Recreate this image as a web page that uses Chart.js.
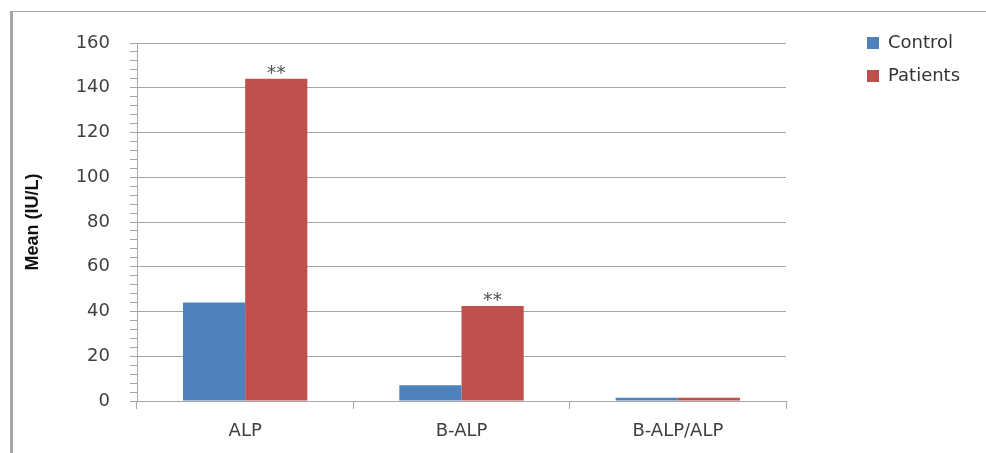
<!DOCTYPE html>
<html>
<head>
<meta charset="utf-8">
<script src="https://cdn.jsdelivr.net/npm/chart.js@4.4.0/dist/chart.umd.min.js"></script>
<style>
  html, body { margin: 0; padding: 0; background: #fff; }
  #frame {
    position: absolute;
    left: 10px;
    top: 11px;
    width: 976px;
    height: 442px;
    border-top: 1px solid #a6a6a6;
    border-left: 3px solid #a6a6a6;
    box-sizing: border-box;
  }
  #wrap { position: absolute; left: 0; top: 0; width: 973px; height: 441px; }
</style>
</head>
<body>
<div id="frame"><div id="wrap"><canvas id="alpchart"></canvas></div></div>
<script>
// data
const categories = ["ALP", "B-ALP", "B-ALP/ALP"];
const controlValues = [44, 7, 1.5];
const patientValues = [144, 42.5, 1.5];
const patientMarks = ["**", "**", ""];
const yTicksMax = 160;

const colors = {
  blue: "#4f81bd",
  red: "#c0504d",
  grid: "#a6a6a6",
  text: "#404040",
};

// "**" above the patients bars
const starLabels = {
  id: "starLabels",
  afterDatasetsDraw: (chart) => {
    const ctx = chart.ctx;
    const meta = chart.getDatasetMeta(1);
    ctx.save();
    ctx.font = "19px 'DejaVu Sans'";
    ctx.fillStyle = "#555";
    ctx.textAlign = "center";
    ctx.textBaseline = "bottom";
    meta.data.forEach((bar, i) => {
      if (patientMarks[i]) {
        ctx.fillText(patientMarks[i], bar.x, bar.y + 5);
      }
    });
    ctx.restore();
  },
};

// legend sits far right of the plot, like the original
const legendPlacement = {
  id: "legendPlacement",
  beforeLayout: (chart) => {
    const legend = chart.legend;
    if (legend && !legend._patched) {
      const fit = legend.fit;
      legend.fit = function () {
        fit.call(this);
        this.width = 200;
      };
      legend._patched = true;
    }
  },
  afterLayout: (chart) => {
    const legend = chart.legend;
    legend.left += 66;
    legend.right += 66;
    legend.top = 7;
  },
};

new Chart(document.getElementById("alpchart"), {
  type: "bar",
  data: {
    labels: categories,
    datasets: [
      {
        label: "Control",
        data: controlValues,
        backgroundColor: colors.blue,
        borderWidth: 0,
      },
      {
        label: "Patients",
        data: patientValues,
        backgroundColor: colors.red,
        borderWidth: 0,
      },
    ],
  },
  options: {
    animation: false,
    responsive: true,
    maintainAspectRatio: false,
    categoryPercentage: 0.575,
    barPercentage: 1,
    layout: {
      padding: { left: 0, right: 0, top: 31, bottom: 0 },
    },
    plugins: {
      legend: {
        position: "right",
        align: "start",
        labels: {
          boxWidth: 12,
          boxHeight: 12,
          padding: 15,
          color: "#333",
          font: { family: "'DejaVu Sans'", size: 18 },
        },
      },
      tooltip: { enabled: false },
    },
    scales: {
      x: {
        afterFit: (axis) => {
          axis.height = 52;
        },
        grid: {
          offset: true,
          drawOnChartArea: false,
          color: colors.grid,
          tickLength: 8,
        },
        border: { color: colors.grid },
        ticks: {
          color: colors.text,
          padding: 12,
          font: { family: "'DejaVu Sans'", size: 18 },
        },
      },
      y: {
        min: 0,
        max: yTicksMax,
        afterFit: (axis) => {
          axis.width = 124;
        },
        grid: {
          color: (ctx) => (ctx.tick && ctx.tick.value % 20 === 0 ? colors.grid : "rgba(0,0,0,0)"),
          tickColor: colors.grid,
          tickLength: 7,
        },
        border: { color: colors.grid },
        ticks: {
          stepSize: 4,
          autoSkip: false,
          color: colors.text,
          padding: 20,
          font: { family: "'DejaVu Sans'", size: 18 },
          callback: (value) => (value % 20 === 0 ? value : ""),
        },
        title: {
          display: true,
          text: "Mean (IU/L)",
          color: "#111",
          padding: { top: 9, bottom: 0 },
          font: { family: "'Liberation Sans Narrow', 'Liberation Sans'", size: 18, weight: "bold" },
        },
      },
    },
  },
  plugins: [starLabels, legendPlacement],
});
</script>
</body>
</html>
